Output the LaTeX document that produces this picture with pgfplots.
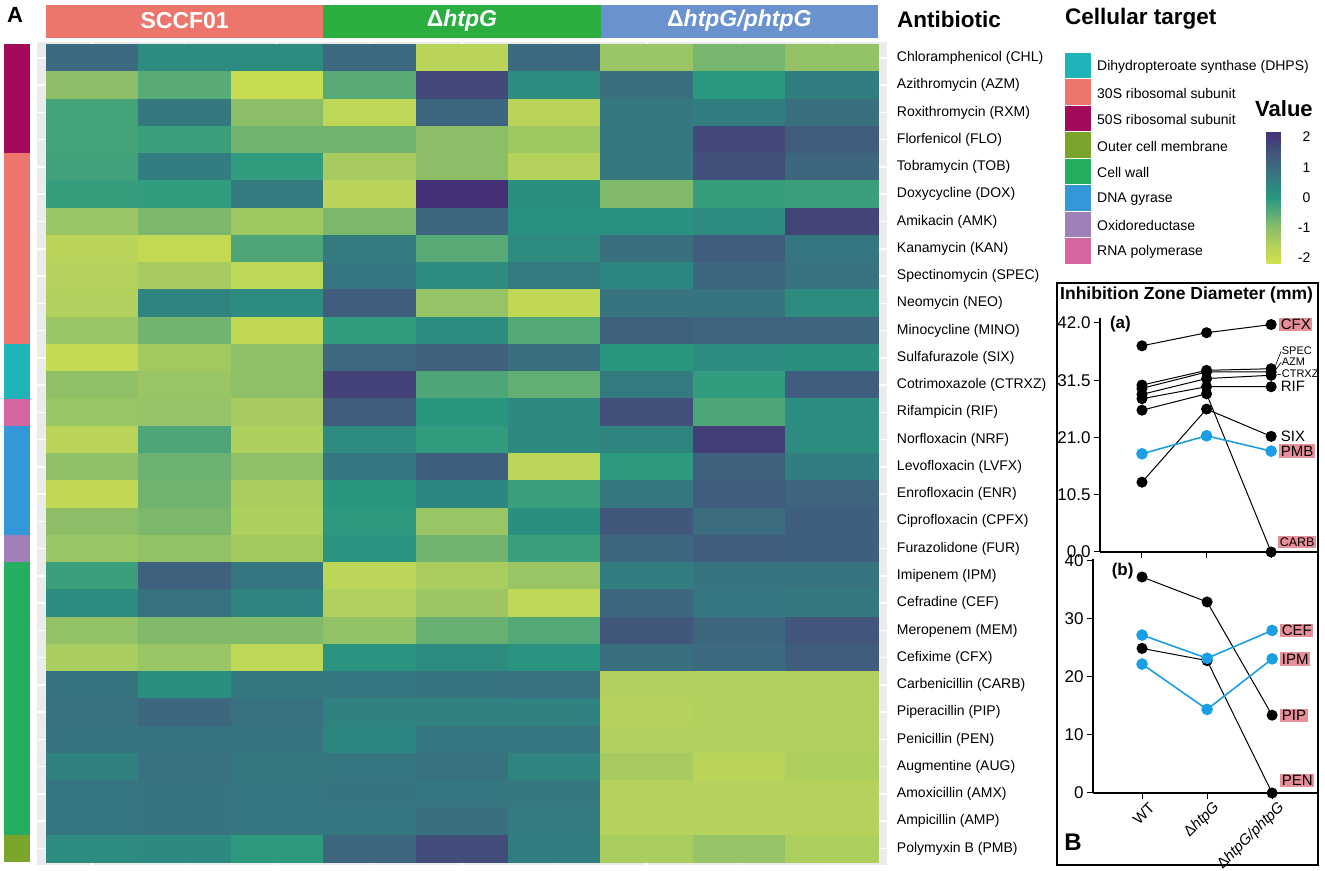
\documentclass[border=0pt]{standalone}
\usepackage{fontspec}
\setmainfont{Liberation Sans}
\usepackage{pgfplots}
\pgfplotsset{compat=1.18}
\newcommand\fs[1]{\fontsize{#1}{#1}\selectfont}

\definecolor{panelgray}{RGB}{235,235,235}
\definecolor{hdrA}{RGB}{236,118,108}
\definecolor{hdrB}{RGB}{42,174,63}
\definecolor{hdrC}{RGB}{105,146,207}
\definecolor{tDHPS}{RGB}{31,181,184}
\definecolor{tS30}{RGB}{236,118,108}
\definecolor{tS50}{RGB}{163,10,90}
\definecolor{tOCM}{RGB}{122,165,42}
\definecolor{tCW}{RGB}{38,174,96}
\definecolor{tDNA}{RGB}{52,152,216}
\definecolor{tOXR}{RGB}{160,128,185}
\definecolor{tRNA}{RGB}{213,102,160}
\definecolor{bblue}{RGB}{27,158,228}
\definecolor{lpink}{RGB}{230,143,152}

\pgfplotsset{
  bstyle/.style={
    scale only axis, axis x line*=bottom, axis y line*=left,
    tick align=outside, major tick length=6pt, clip=false,
    xtick={0,1,2}, enlargelimits=false,
    tick style={black, line width=1pt},
    axis line style={line width=1.3pt},
    ticklabel style={font=\fs{17}},
  },
  blk/.style={black, line width=1pt, mark=*, mark size=5pt},
  blu/.style={bblue, line width=1.6pt, mark=*, mark size=5pt, mark options={fill=bblue, draw=bblue}},
}

\begin{document}
\begin{tikzpicture}
\path[use as bounding box] (0,0) rectangle (1325pt,870pt);

% ---- heatmap
\begin{axis}[
  at={(36.76pt,5.2pt)}, anchor=south west,
  scale only axis, width=850.5pt, height=823.2pt,
  xmin=-0.6, xmax=8.6, ymin=-0.6, ymax=29.6, y dir=reverse,
  axis line style={draw=none},
  axis background/.style={fill=panelgray},
  xtick={0,...,8}, xticklabels={},
  ytick={0,...,29},
  yticklabels={Chloramphenicol (CHL),Azithromycin (AZM),Roxithromycin (RXM),Florfenicol (FLO),Tobramycin (TOB),Doxycycline (DOX),Amikacin (AMK),Kanamycin (KAN),Spectinomycin (SPEC),Neomycin (NEO),Minocycline (MINO),Sulfafurazole (SIX),Cotrimoxazole (CTRXZ),Rifampicin (RIF),Norfloxacin (NRF),Levofloxacin (LVFX),Enrofloxacin (ENR),Ciprofloxacin (CPFX),Furazolidone (FUR),Imipenem (IPM),Cefradine (CEF),Meropenem (MEM),Cefixime (CFX),Carbenicillin (CARB),Piperacillin (PIP),Penicillin (PEN),Augmentine (AUG),Amoxicillin (AMX),Ampicillin (AMP),Polymyxin B (PMB)},
  ytick pos=right, yticklabel pos=right,
  major tick length=0pt,
  grid=major, grid style={white, line width=1.5pt},
  yticklabel style={font=\fs{14}, anchor=west, inner sep=0pt, xshift=9.5pt},
  colormap={hm}{rgb255(0cm)=(210,225,75); rgb255(0.6cm)=(180,210,92); rgb255(1.2cm)=(140,190,104); rgb255(1.7cm)=(88,170,118); rgb255(2.2cm)=(40,152,128); rgb255(2.7cm)=(48,130,128); rgb255(3.2cm)=(60,106,128); rgb255(3.7cm)=(66,85,124); rgb255(4.4cm)=(68,48,118)},
  point meta min=-2.2, point meta max=2.2,
  colorbar,
  colorbar style={
    at={(parent axis.north east)}, anchor=north west,
    xshift=370.7pt, yshift=-89.4pt,
    scale only axis, width=26pt, height=133pt,
    ytick={-2,-1,0,1,2}, yticklabels={-2,-1,0,1,2},
    yticklabel style={font=\fs{14}, anchor=east, inner sep=0pt, xshift=18pt},
    major tick length=0pt, axis line style={draw=none},
  },
  clip=false,
]
\addplot[matrix plot*, mesh/cols=9, point meta=explicit] coordinates {
(0,0)[1.0] (1,0)[0.3] (2,0)[0.3] (3,0)[1.0] (4,0)[-1.7] (5,0)[1.0] (6,0)[-1.2] (7,0)[-0.8] (8,0)[-1.1]
(0,1)[-1.0] (1,1)[-0.5] (2,1)[-2.0] (3,1)[-0.5] (4,1)[1.7] (5,1)[0.3] (6,1)[0.9] (7,1)[0.0] (8,1)[0.6]
(0,2)[-0.3] (1,2)[0.7] (2,2)[-1.0] (3,2)[-1.8] (4,2)[1.1] (5,2)[-1.7] (6,2)[0.7] (7,2)[0.6] (8,2)[0.9]
(0,3)[-0.3] (1,3)[-0.2] (2,3)[-0.75] (3,3)[-0.75] (4,3)[-1.0] (5,3)[-1.3] (6,3)[0.7] (7,3)[1.7] (8,3)[1.3]
(0,4)[-0.25] (1,4)[0.6] (2,4)[-0.1] (3,4)[-1.4] (4,4)[-1.0] (5,4)[-1.6] (6,4)[0.7] (7,4)[1.6] (8,4)[1.1]
(0,5)[-0.15] (1,5)[-0.1] (2,5)[0.65] (3,5)[-1.7] (4,5)[2.2] (5,5)[0.2] (6,5)[-0.9] (7,5)[-0.15] (8,5)[-0.2]
(0,6)[-1.2] (1,6)[-0.85] (2,6)[-1.3] (3,6)[-0.85] (4,6)[1.1] (5,6)[0.15] (6,6)[0.15] (7,6)[0.3] (8,6)[1.8]
(0,7)[-1.7] (1,7)[-1.9] (2,7)[-0.4] (3,7)[0.65] (4,7)[-0.5] (5,7)[0.3] (6,7)[0.9] (7,7)[1.3] (8,7)[0.75]
(0,8)[-1.6] (1,8)[-1.4] (2,8)[-1.8] (3,8)[0.75] (4,8)[0.3] (5,8)[0.65] (6,8)[0.4] (7,8)[1.1] (8,8)[0.85]
(0,9)[-1.55] (1,9)[0.45] (2,9)[0.3] (3,9)[1.3] (4,9)[-1.15] (5,9)[-1.85] (6,9)[0.8] (7,9)[0.8] (8,9)[0.3]
(0,10)[-1.2] (1,10)[-0.75] (2,10)[-1.85] (3,10)[-0.1] (4,10)[0.3] (5,10)[-0.45] (6,10)[1.2] (7,10)[1.15] (8,10)[1.15]
(0,11)[-1.9] (1,11)[-1.35] (2,11)[-1.05] (3,11)[1.05] (4,11)[1.2] (5,11)[0.9] (6,11)[0.05] (7,11)[0.25] (8,11)[0.2]
(0,12)[-1.05] (1,12)[-1.2] (2,12)[-1.05] (3,12)[1.85] (4,12)[-0.4] (5,12)[-0.6] (6,12)[0.65] (7,12)[-0.1] (8,12)[1.3]
(0,13)[-1.2] (1,13)[-1.15] (2,13)[-1.4] (3,13)[1.3] (4,13)[0.05] (5,13)[0.35] (6,13)[1.6] (7,13)[-0.4] (8,13)[0.25]
(0,14)[-1.7] (1,14)[-0.4] (2,14)[-1.5] (3,14)[0.3] (4,14)[-0.1] (5,14)[0.35] (6,14)[0.45] (7,14)[1.95] (8,14)[0.25]
(0,15)[-1.05] (1,15)[-0.7] (2,15)[-1.05] (3,15)[0.75] (4,15)[1.25] (5,15)[-1.75] (6,15)[-0.05] (7,15)[1.2] (8,15)[0.6]
(0,16)[-1.85] (1,16)[-0.75] (2,16)[-1.45] (3,16)[0.05] (4,16)[0.4] (5,16)[-0.2] (6,16)[0.7] (7,16)[1.3] (8,16)[1.15]
(0,17)[-1.0] (1,17)[-0.85] (2,17)[-1.5] (3,17)[-0.05] (4,17)[-1.2] (5,17)[0.2] (6,17)[1.45] (7,17)[0.95] (8,17)[1.25]
(0,18)[-1.2] (1,18)[-1.1] (2,18)[-1.35] (3,18)[0.1] (4,18)[-0.75] (5,18)[-0.2] (6,18)[1.1] (7,18)[1.3] (8,18)[1.25]
(0,19)[-0.2] (1,19)[1.2] (2,19)[0.75] (3,19)[-1.75] (4,19)[-1.45] (5,19)[-1.2] (6,19)[0.6] (7,19)[0.8] (8,19)[0.8]
(0,20)[0.3] (1,20)[0.85] (2,20)[0.45] (3,20)[-1.55] (4,20)[-1.25] (5,20)[-1.8] (6,20)[1.1] (7,20)[0.75] (8,20)[0.7]
(0,21)[-1.1] (1,21)[-0.9] (2,21)[-0.9] (3,21)[-1.1] (4,21)[-0.65] (5,21)[-0.45] (6,21)[1.45] (7,21)[1.1] (8,21)[1.5]
(0,22)[-1.45] (1,22)[-1.2] (2,22)[-1.8] (3,22)[0.1] (4,22)[0.3] (5,22)[0.1] (6,22)[0.9] (7,22)[1.0] (8,22)[1.3]
(0,23)[0.8] (1,23)[0.2] (2,23)[0.7] (3,23)[0.75] (4,23)[0.8] (5,23)[0.85] (6,23)[-1.55] (7,23)[-1.55] (8,23)[-1.55]
(0,24)[0.85] (1,24)[1.1] (2,24)[0.85] (3,24)[0.5] (4,24)[0.5] (5,24)[0.5] (6,24)[-1.6] (7,24)[-1.55] (8,24)[-1.55]
(0,25)[0.8] (1,25)[0.8] (2,25)[0.8] (3,25)[0.4] (4,25)[0.75] (5,25)[0.75] (6,25)[-1.55] (7,25)[-1.55] (8,25)[-1.55]
(0,26)[0.5] (1,26)[0.85] (2,26)[0.7] (3,26)[0.75] (4,26)[0.85] (5,26)[0.45] (6,26)[-1.4] (7,26)[-1.7] (8,26)[-1.5]
(0,27)[0.75] (1,27)[0.8] (2,27)[0.75] (3,27)[0.8] (4,27)[0.75] (5,27)[0.7] (6,27)[-1.6] (7,27)[-1.6] (8,27)[-1.6]
(0,28)[0.75] (1,28)[0.8] (2,28)[0.75] (3,28)[0.75] (4,28)[0.9] (5,28)[0.65] (6,28)[-1.6] (7,28)[-1.6] (8,28)[-1.6]
(0,29)[0.3] (1,29)[0.35] (2,29)[-0.05] (3,29)[1.1] (4,29)[1.65] (5,29)[0.6] (6,29)[-1.45] (7,29)[-1.15] (8,29)[-1.5]
};
% cellular target strip
\fill[tS50]  (axis cs:-0.951,-0.5) rectangle (axis cs:-0.673,3.5);
\fill[tS30]  (axis cs:-0.951,3.5)  rectangle (axis cs:-0.673,10.5);
\fill[tDHPS] (axis cs:-0.951,10.5) rectangle (axis cs:-0.673,12.5);
\fill[tRNA]  (axis cs:-0.951,12.5) rectangle (axis cs:-0.673,13.5);
\fill[tDNA]  (axis cs:-0.951,13.5) rectangle (axis cs:-0.673,17.5);
\fill[tOXR]  (axis cs:-0.951,17.5) rectangle (axis cs:-0.673,18.5);
\fill[tCW]   (axis cs:-0.951,18.5) rectangle (axis cs:-0.673,28.5);
\fill[tOCM]  (axis cs:-0.951,28.5) rectangle (axis cs:-0.673,29.5);
\end{axis}

% group header
\fill[hdrA] (46pt,832.3pt) rectangle (323.3pt,865.3pt);
\fill[hdrB] (323.3pt,832.3pt) rectangle (600.7pt,865.3pt);
\fill[hdrC] (600.7pt,832.3pt) rectangle (878pt,865.3pt);
\node[white, font=\fs{23}\bfseries] at (184.7pt,849pt) {SCCF01};
\node[white, font=\fs{23}\bfseries] at (462pt,849pt) {Δ\textit{htpG}};
\node[white, font=\fs{23}\bfseries] at (739.3pt,849pt) {Δ\textit{htpG/phtpG}};
\node[font=\fs{22}\bfseries] at (15pt,855pt) {A};

% headings
\node[anchor=west, inner sep=0pt, font=\fs{22.5}\bfseries] at (897pt,851pt) {Antibiotic};
\node[anchor=west, inner sep=0pt, font=\fs{22.5}\bfseries] at (1065pt,851pt) {Cellular target};
\node[anchor=west, inner sep=0pt, font=\fs{22}\bfseries] at (1255pt,761pt) {Value};

% cellular target legend
\foreach \c/\t [count=\i from 0] in {tDHPS/Dihydropteroate synthase (DHPS),tS30/30S ribosomal subunit,tS50/50S ribosomal subunit,tOCM/Outer cell membrane,tCW/Cell wall,tDNA/DNA gyrase,tOXR/Oxidoreductase,tRNA/RNA polymerase}{
  \fill[\c, draw=white, line width=0.8pt] (1064pt,{818pt-26.5pt*\i}) rectangle (1091pt,{791.5pt-26.5pt*\i});
  \node[anchor=west, inner sep=0pt, font=\fs{14}] at (1097pt,{803.3pt-26.5pt*\i}) {\t};
}

% ---- panel B
\draw[line width=1.5pt] (1057pt,5pt) rectangle (1318pt,587pt);
\node[anchor=west, inner sep=0pt, font=\fs{17.5}\bfseries] at (1060pt,575pt) {Inhibition Zone Diameter (mm)};

\begin{axis}[bstyle,
  at={(1100pt,318pt)}, anchor=south west, width=217pt, height=234pt,
  xmin=-0.65, xmax=2.71, ymin=0, ymax=42.9,
  xticklabels={},
  ytick={0,10.5,21,31.5,42}, yticklabels={0.0,10.5,21.0,31.5,42.0},
]
\addplot[blk] coordinates {(0,37.8) (1,40.2) (2,41.7)};
\addplot[blk] coordinates {(0,30.6) (1,33.3) (2,33.6)};
\addplot[blk] coordinates {(0,30.0) (1,33.0) (2,33.0)};
\addplot[blk] coordinates {(0,28.9) (1,31.8) (2,32.4)};
\addplot[blk] coordinates {(0,28.1) (1,30.3) (2,30.3)};
\addplot[blk] coordinates {(0,26.0) (1,29.0) (2,0)};
\addplot[blk] coordinates {(0,12.8) (1,26.2) (2,21.2)};
\addplot[blu] coordinates {(0,18.0) (1,21.3) (2,18.5)};
\node[anchor=west, font=\fs{17}\bfseries] at (axis cs:-0.55,41.8) {(a)};
\node[anchor=west, fill=lpink, inner sep=1.5pt, xshift=8pt, font=\fs{15}] at (axis cs:2,41.7) {CFX};
\node[anchor=west, inner sep=1.5pt, xshift=8pt, font=\fs{15}] at (axis cs:2,30.3) {RIF};
\node[anchor=west, inner sep=1.5pt, xshift=8pt, font=\fs{15}] at (axis cs:2,21.2) {SIX};
\node[anchor=west, fill=lpink, inner sep=1.5pt, xshift=8pt, font=\fs{15}] at (axis cs:2,18.5) {PMB};
\node[anchor=west, fill=lpink, inner sep=1.5pt, xshift=7pt, font=\fs{12.5}] at (axis cs:2,1.8) {CARB};
\draw[black, line width=0.6pt] (axis cs:2.07,34.3) -- (axis cs:2.155,36.8);
\draw[black, line width=0.6pt] (axis cs:2.085,33.6) -- (axis cs:2.155,34.8);
\draw[black, line width=0.6pt] (axis cs:2.095,32.5) -- (axis cs:2.155,32.6);
\node[anchor=west, inner sep=0.5pt, font=\fs{11}] at (axis cs:2.155,36.9) {SPEC};
\node[anchor=west, inner sep=0.5pt, font=\fs{11}] at (axis cs:2.155,34.8) {AZM};
\node[anchor=west, inner sep=0.5pt, font=\fs{11}] at (axis cs:2.155,32.6) {CTRXZ};
\end{axis}

\begin{axis}[bstyle,
  at={(1093pt,77pt)}, anchor=south west, width=224pt, height=234pt,
  xmin=-0.754, xmax=2.69, ymin=0, ymax=40.3,
  xticklabels={WT,Δ\textit{htpG},Δ\textit{htpG/phtpG}},
  xticklabel style={xshift=10pt, yshift=-6pt, rotate=45, anchor=east, inner sep=0pt, font=\fs{15}},
  ytick={0,10,20,30,40}, yticklabels={0,10,20,30,40},
]
\addplot[blk] coordinates {(0,37.2) (1,32.9) (2,13.4)};
\addplot[blk] coordinates {(0,24.9) (1,22.8) (2,0)};
\addplot[blu] coordinates {(0,27.2) (1,23.2) (2,28.0)};
\addplot[blu] coordinates {(0,22.2) (1,14.4) (2,23.1)};
\node[anchor=west, font=\fs{17}\bfseries] at (axis cs:-0.52,38.3) {(b)};
\node[anchor=west, fill=lpink, inner sep=1.5pt, xshift=8pt, font=\fs{15}] at (axis cs:2,28.0) {CEF};
\node[anchor=west, fill=lpink, inner sep=1.5pt, xshift=8pt, font=\fs{15}] at (axis cs:2,23.1) {IPM};
\node[anchor=west, fill=lpink, inner sep=1.5pt, xshift=8pt, font=\fs{15}] at (axis cs:2,13.4) {PIP};
\node[anchor=west, fill=lpink, inner sep=1.5pt, xshift=8pt, font=\fs{15}] at (axis cs:2,2.2) {PEN};
\end{axis}
\node[font=\fs{24}\bfseries] at (1073pt,28pt) {B};
\end{tikzpicture}
\end{document}
